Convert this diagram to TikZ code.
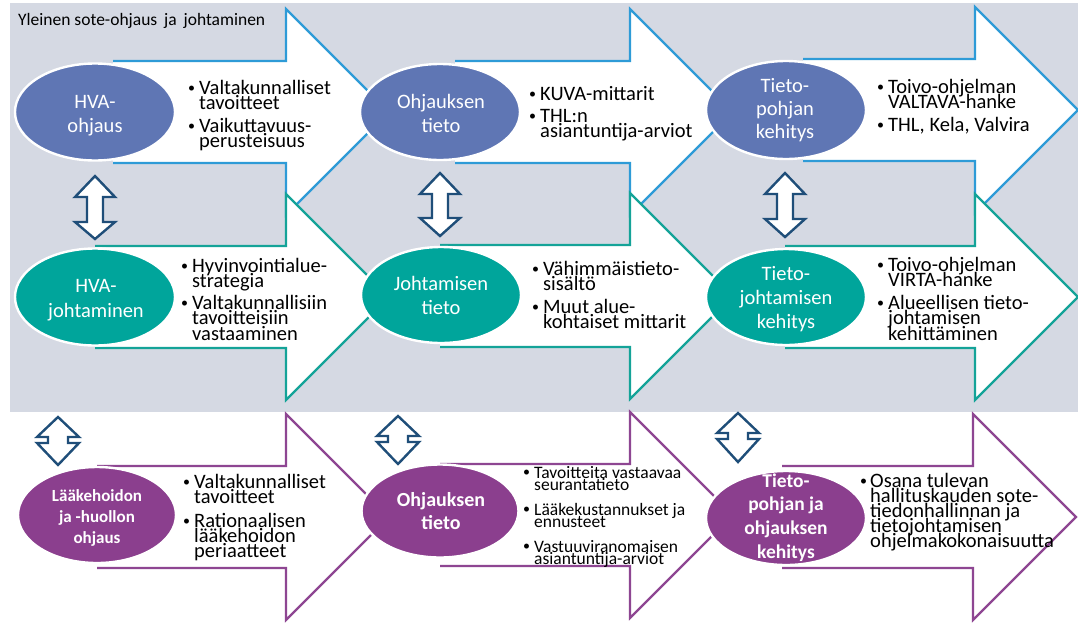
\documentclass[tikz,border=0pt]{standalone}
\usepackage{fontspec}
\setmainfont{Carlito}
\usetikzlibrary{shapes.geometric}
\definecolor{panel}{HTML}{D5D9E3}
\definecolor{eblue}{HTML}{5F76B4}
\definecolor{eteal}{HTML}{00A59B}
\definecolor{epurple}{HTML}{8B3F8E}
\definecolor{lblue}{HTML}{2E9BD7}
\definecolor{lteal}{HTML}{14A398}
\definecolor{lpurple}{HTML}{8E4692}
\definecolor{dblue}{HTML}{1F4E79}
\newcommand\lnsL[1]{\vtop{\lineskiplimit=-\maxdimen\lineskip=0pt\halign{##\hfil\cr#1\crcr}}}
\newcommand\lnsC[1]{\vtop{\lineskiplimit=-\maxdimen\lineskip=0pt\halign{\hfil##\hfil\cr#1\crcr}}}
\newcommand\blockarrow[4]{%
  \filldraw[#4] (#1,#3-51) -- (#2,#3-51) -- (#2,#3-103) -- (#2+103,#3) -- (#2,#3+103) -- (#2,#3+51) -- (#1,#3+51);}
\newcommand\dblarrow[7]{%
  \filldraw[dbl] (#1,#2) -- (#1+#6,#3) -- (#1+#7,#3) -- (#1+#7,#4) -- (#1+#6,#4) -- (#1,#5)
   -- (#1-#6,#4) -- (#1-#7,#4) -- (#1-#7,#3) -- (#1-#6,#3) -- cycle;}
\newcommand\mybul{\raisebox{1.6pt}{\fontsize{14}{14}\selectfont •}}
\newcommand\bitem[6]{%
  \node[bul,#2] (#1b) at (#3,#5) {\mybul};
  \node[bul,#2] (#1) at (#4,#5) {\lnsL{#6}};}
\begin{document}
\begin{tikzpicture}[x=1pt,y=-1pt,
  arrB/.style={fill=white,draw=lblue,line width=2.2pt},
  arrT/.style={fill=white,draw=lteal,line width=2.2pt},
  arrP/.style={fill=white,draw=lpurple,line width=2.2pt},
  dbl/.style={fill=white,draw=dblue,line width=2.4pt,line join=miter},
  ell/.style={ellipse,draw=white,line width=2.4pt,inner sep=0pt,minimum width=#1},
  ell/.default=160pt,
  etxt/.style={text=white,inner sep=0pt,anchor=base,font=\fontsize{20.5}{24}\selectfont},
  btxt/.style={text=white,inner sep=0pt,anchor=base},
  bul/.style={inner sep=0pt,anchor=base west,font=\fontsize{20.5}{15.5}\selectfont},
  small/.style={font=\fontsize{17.5}{12}\selectfont},
  mid/.style={font=\fontsize{20.5}{15}\selectfont}]
\useasboundingbox (0,0) rectangle (1078,624);
\fill[white] (0,0) rectangle (1078,624);
\fill[panel] (10,3) rectangle (1078,412);
\node[inner sep=0pt,anchor=base west,font=\fontsize{17.5}{20}\selectfont] (title) at (18,25) {Yleinen sote-ohjaus\, ja\, johtaminen};
% top row arrows
\blockarrow{113}{286}{112}{arrB}
\blockarrow{455}{630}{112}{arrB}
\blockarrow{803}{975}{110}{arrB}
% middle row arrows
\blockarrow{95}{286}{297}{arrT}
\blockarrow{440}{630}{296}{arrT}
\blockarrow{785}{975}{297}{arrT}
% bottom row arrows
\blockarrow{97}{286}{517}{arrP}
\blockarrow{440}{630}{515}{arrP}
\blockarrow{782}{973}{517}{arrP}
% ellipses
\node[ell,fill=eblue,minimum height=97pt] (e11) at (95,112) {};
\node[ell,fill=eblue,minimum height=96pt] (e12) at (440,112) {};
\node[ell,fill=eblue,minimum height=98pt] (e13) at (786,110) {};
\node[ell,fill=eteal,minimum height=97pt] (e21) at (95,297) {};
\node[ell,fill=eteal,minimum height=96pt] (e22) at (441,295) {};
\node[ell,fill=eteal,minimum height=96pt] (e23) at (786,297) {};
\node[ell=158pt,fill=epurple,minimum height=96pt] (e31) at (97,515) {};
\node[ell=157pt,fill=epurple,minimum height=93pt] (e32) at (440,511) {};
\node[ell,fill=epurple,minimum height=94pt] (e33) at (786,518) {};
% ellipse texts
\node[etxt] (t11) at (95,108) {\lnsC{HVA-\cr ohjaus}};
\node[etxt] (t12) at (441,108) {\lnsC{Ohjauksen\cr tieto}};
\node[etxt,font=\fontsize{20.5}{23}\selectfont] (t13) at (785,92) {\lnsC{Tieto-\cr pohjan\cr kehitys}};
\node[etxt,font=\fontsize{20.5}{25}\selectfont] (t21) at (96,292) {\lnsC{HVA-\cr johtaminen}};
\node[etxt] (t22) at (441,290) {\lnsC{Johtamisen\cr tieto}};
\node[etxt] (t23) at (786,280) {\lnsC{Tieto-\cr johtamisen\cr kehitys}};
\node[btxt,font=\fontsize{17}{21}\selectfont\bfseries] (t31) at (97,501) {\lnsC{Lääkehoidon\cr ja -huollon\cr ohjaus}};
\node[btxt,font=\fontsize{20}{23}\selectfont\bfseries] (t32) at (441,506) {\lnsC{Ohjauksen\cr tieto}};
\node[btxt,font=\fontsize{19.5}{23.7}\selectfont\bfseries] (t33) at (786,487) {\lnsC{Tieto-\cr pohjan ja\cr ohjauksen\cr kehitys}};
% bullets
\bitem{a1}{}{188}{199}{94}{Valtakunnalliset\cr tavoitteet}
\bitem{a2}{}{188}{199}{132}{Vaikuttavuus-\cr perusteisuus}
\bitem{b1}{}{529}{540}{100}{KUVA-mittarit}
\bitem{b2}{}{529}{540}{122}{THL:n\cr asiantuntija-arviot}
\bitem{c1}{}{877}{888}{93}{Toivo-ohjelman\cr VALTAVA-hanke}
\bitem{c2}{}{877}{888}{131}{THL, Kela, Valvira}
\bitem{d1}{}{181}{192}{272}{Hyvinvointialue-\cr strategia}
\bitem{d2}{}{181}{192}{309}{Valtakunnallisiin\cr tavoitteisiin\cr vastaaminen}
\bitem{f1}{}{532}{543}{275}{Vähimmäistieto-\cr sisältö}
\bitem{f2}{}{532}{543}{313}{Muut alue-\cr kohtaiset mittarit}
\bitem{g1}{}{877}{888}{271}{Toivo-ohjelman\cr VIRTA-hanke}
\bitem{g2}{}{877}{888}{309}{Alueellisen tieto-\cr johtamisen\cr kehittäminen}
\bitem{h1}{mid}{183}{194}{488}{Valtakunnalliset\cr tavoitteet}
\bitem{h2}{mid}{183}{194}{527}{Rationaalisen\cr lääkehoidon\cr periaatteet}
\bitem{k1}{small}{523}{534}{478}{Tavoitteita vastaavaa\cr seurantatieto}
\bitem{k2}{small}{523}{534}{515}{Lääkekustannukset ja\cr ennusteet}
\bitem{k3}{small}{523}{534}{552}{Vastuuviranomaisen\cr asiantuntija-arviot}
\bitem{m1}{mid}{860}{870}{487}{Osana tulevan\cr hallituskauden sote-\cr tiedonhallinnan ja\cr tietojohtamisen\cr ohjelmakokonaisuutta}
% double arrows
\dblarrow{95}{176}{197}{222}{239}{20}{8}
\dblarrow{440}{173}{194}{218}{236}{20}{8}
\dblarrow{785}{173}{194}{219}{237}{20}{8}
\dblarrow{58}{417}{437}{443}{465}{21}{10}
\dblarrow{398}{416}{436}{442}{464}{21}{10}
\dblarrow{738}{413}{433}{439}{462}{21}{10}
\end{tikzpicture}
\end{document}
